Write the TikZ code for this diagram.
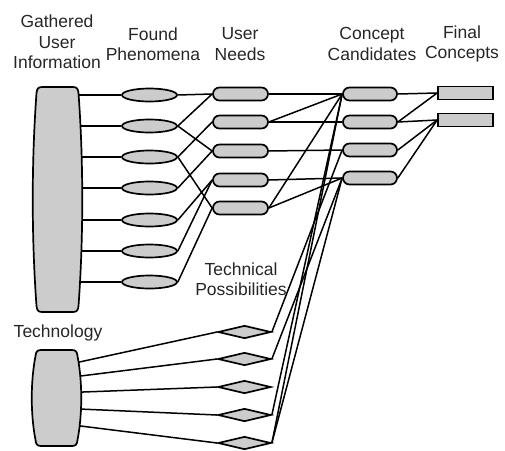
\documentclass[tikz,border=0pt]{standalone}
\usepackage{fontspec}
\setmainfont{Liberation Sans}
\usepackage{tikz}
\usetikzlibrary{shapes.geometric, shapes.misc, positioning}

\pgfdeclarelayer{bg}
\pgfsetlayers{bg,main}

\tikzset{
    box/.style={draw, line width=1.7pt, fill=black!20, inner sep=0pt},
    phen/.style={box, ellipse, minimum width=55, minimum height=13},
    need/.style={box, rounded rectangle, minimum width=55, minimum height=13},
    final/.style={box, rectangle, minimum width=55, minimum height=13},
    poss/.style={box, diamond, minimum width=53, minimum height=13},
    barrel/.style={draw, line width=1.7pt, fill=black!20},
    head/.style={align=center, font=\fontsize{17.5}{20.5}\selectfont, text=black!85},
    link/.style={line width=1.5pt},
    pics/barrel/.style={code={
        \draw[barrel] (-15.5,-#1) -- (15.5,-#1)
            .. controls (19.5,-#1) and (20.5,{-#1+2}) .. (21,{-#1+6})
            .. controls (26,{-#1/3}) and (26,{#1/3}) .. (21,{#1-6})
            .. controls (20.5,{#1-2}) and (19.5,#1) .. (15.5,#1) -- (-15.5,#1)
            .. controls (-19.5,#1) and (-20.5,{#1-2}) .. (-21,{#1-6})
            .. controls (-26,{#1/3}) and (-26,{-#1/3}) .. (-21,{-#1+6})
            .. controls (-20.5,{-#1+2}) and (-19.5,-#1) .. cycle;
    }},
}

\begin{document}
\begin{tikzpicture}[x=1pt, y=-1pt]
    \useasboundingbox (0,0) rectangle (505,450);

    % headers
    \node[head] (hgui) at (57,42) {Gathered\\User\\Information};
    \node[head] (hph) at (153,44) {Found\\Phenomena};
    \node[head] (hun) at (240,44) {User\\Needs};
    \node[head] (hcc) at (372,44) {Concept\\Candidates};
    \node[head] (hfc) at (462,44) {Final\\Concepts};
    \node[head] (htp) at (241,279) {Technical\\Possibilities};
    \node[head] (htech) at (58,333) {Technology};

    % sources
    \node[minimum width=50, minimum height=225, inner sep=0pt] (gui) at (57.5,199.5) {};
    \node[minimum width=52, minimum height=96, inner sep=0pt] (tech) at (56.5,398) {};
    \pic at (gui) {barrel=112.5};
    \pic at (tech) {barrel=48};

    % columns
    \foreach \y [count=\i] in {95,126,157,188,220,251,282}
        \node[phen] (ph\i) at (149.5,\y) {};
    \foreach \y [count=\i] in {94,122,151,180,208}
        \node[need] (un\i) at (240.5,\y) {};
    \foreach \y [count=\i] in {94,122,150,178}
        \node[need, minimum width=54] (cc\i) at (370,\y) {};
    \foreach \y [count=\i] in {93,120}
        \node[final] (fc\i) at (465.5,\y) {};
    \foreach \y [count=\i] in {332,359,387,415,443}
        \node[poss] (tp\i) at (244.5,\y) {};

    % connections
    \begin{pgfonlayer}{bg}
        \foreach \i in {1,...,7}
            \draw[link] (gui.center |- ph\i) -- (ph\i.west);
        \foreach \a/\b in {1/1,2/1,2/3,3/2,3/5,4/3,5/4,6/4,7/5}
            \draw[link] (ph\a.east) -- (un\b.west);
        \foreach \a/\b in {1/1,2/1,2/2,3/3,4/4,5/1,5/4}
            \draw[link] (un\a.east) -- (cc\b.west);
        \foreach \a/\b in {1/1,2/1,2/2,3/2,4/2}
            \draw[link] (cc\a.east) -- (fc\b.west);
        \foreach \i/\s in {1/31,2/19,3/5,4/-10,5/-25}
            \draw[link] ([yshift=\s]tech.center) -- (tp\i.west);
        \foreach \a/\b in {1/3,2/4,4/1,5/1,5/4}
            \draw[link] (tp\a.east) -- (cc\b.west);
    \end{pgfonlayer}
\end{tikzpicture}
\end{document}
